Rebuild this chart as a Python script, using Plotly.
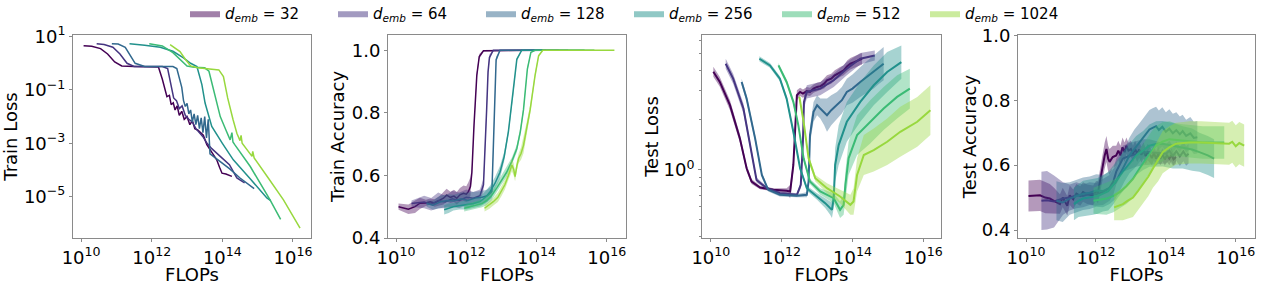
import plotly.graph_objects as go

# ---------------- series meta ----------------
labels = ["32", "64", "128", "256", "512", "1024"]
colors = ["#440154", "#453581", "#31688e", "#21918c", "#3bbb75", "#98d83e"]

# ---------------- Panel 1: Train Loss (log10 FLOPs, log10 loss) ----------------
tl32_x = [10.07, 10.3, 10.55, 10.75, 10.95, 11.15, 11.5, 11.9, 12.19, 12.3, 12.43, 12.5, 12.55, 12.61, 12.66, 12.72, 12.78, 12.85, 12.92, 13.0, 13.08, 13.15, 13.22, 13.3, 13.38, 13.46, 13.56, 13.7, 13.84, 13.92, 13.99, 14.1, 14.27]
tl32_y = [0.66, 0.64, 0.55, 0.35, 0.05, -0.1, -0.12, -0.12, -0.14, -0.6, -1.25, -1.2, -1.55, -1.48, -1.75, -1.6, -1.95, -1.8, -2.1, -2.0, -2.3, -2.15, -2.45, -2.5, -2.6, -2.7, -3.05, -3.35, -3.62, -3.9, -4.12, -4.15, -4.24]
tl64_x = [10.44, 10.65, 10.9, 11.1, 11.3, 11.5, 11.9, 12.3, 12.45, 12.55, 12.62, 12.7, 12.78, 12.86, 12.95, 13.05, 13.15, 13.25, 13.35, 13.45, 13.56, 13.7, 13.94, 14.2, 14.41, 14.63]
tl64_y = [0.73, 0.7, 0.6, 0.35, 0.0, -0.12, -0.12, -0.12, -0.2, -0.8, -1.3, -1.4, -1.7, -1.6, -1.95, -2.1, -2.2, -2.45, -2.6, -2.75, -2.99, -3.2, -3.49, -3.8, -4.3, -4.48]
tl128_x = [10.87, 11.05, 11.25, 11.4, 11.53, 11.8, 12.3, 12.6, 12.71, 12.78, 12.85, 12.9, 12.95, 13.0, 13.05, 13.1, 13.15, 13.2, 13.25, 13.3, 13.35, 13.4, 13.45, 13.5, 13.55, 13.6, 13.65, 13.8, 14.0, 14.2, 14.5, 14.9]
tl128_y = [0.73, 0.72, 0.6, 0.3, 0.0, -0.12, -0.12, -0.12, -0.2, -0.6, -0.9, -1.4, -1.62, -1.5, -1.9, -1.75, -2.2, -1.9, -2.3, -1.95, -2.45, -2.05, -2.6, -2.0, -2.8, -2.1, -3.4, -3.55, -3.75, -3.95, -4.3, -4.7]
tl256_x = [11.37, 11.8, 12.24, 12.6, 12.9, 13.1, 13.28, 13.42, 13.51, 13.7, 14.0, 14.31, 14.8, 15.26, 15.37]
tl256_y = [0.73, 0.68, 0.6, 0.45, 0.2, 0.0, -0.12, -0.8, -1.49, -2.37, -3.0, -3.62, -4.35, -5.05, -5.15]
tl512_x = [11.93, 12.3, 12.6, 12.85, 13.0, 13.2, 13.5, 13.62, 13.75, 13.94, 14.1, 14.22, 14.27, 14.3, 14.35, 14.79, 15.35, 15.65]
tl512_y = [0.73, 0.65, 0.4, 0.1, -0.1, -0.15, -0.17, -0.3, -1.0, -2.0, -2.5, -2.87, -2.6, -2.95, -3.05, -3.87, -5.12, -5.85]
tl1024_x = [12.52, 12.7, 12.8, 12.95, 13.1, 13.3, 13.6, 13.9, 14.03, 14.15, 14.3, 14.41, 14.5, 14.53, 14.56, 14.84, 14.86, 14.9, 15.3, 15.73, 16.2]
tl1024_y = [0.7, 0.55, 0.44, 0.15, -0.1, -0.17, -0.2, -0.25, -0.5, -1.3, -2.1, -2.62, -2.9, -2.7, -3.0, -3.49, -3.3, -3.55, -4.3, -5.12, -6.18]

# ---------------- Panel 2: Train Accuracy (log10 FLOPs, value, band half-width) ----------------
ta32_x = [10.07, 10.2, 10.35, 10.54, 10.68, 10.85, 10.97, 11.1, 11.25, 11.35, 11.44, 11.55, 11.65, 11.73, 11.82, 11.92, 12.0, 12.06, 12.12, 12.16, 12.22, 12.3, 12.37, 12.49, 14.27]
ta32_y = [0.50, 0.497, 0.492, 0.5, 0.511, 0.512, 0.516, 0.512, 0.52, 0.527, 0.537, 0.53, 0.534, 0.527, 0.538, 0.543, 0.54, 0.548, 0.565, 0.61, 0.76, 0.92, 0.98, 0.998, 1.0]
ta32_w = [0.01, 0.012, 0.015, 0.02, 0.018, 0.01, 0.01, 0.012, 0.015, 0.02, 0.02, 0.018, 0.02, 0.02, 0.022, 0.025, 0.025, 0.03, 0.03, 0.02, 0.015, 0.01, 0.008, 0.003, 0.0]
ta64_x = [10.44, 10.6, 10.8, 11.0, 11.2, 11.4, 11.6, 11.8, 12.0, 12.2, 12.39, 12.49, 12.54, 12.58, 12.62, 12.66, 12.77, 14.63]
ta64_y = [0.51, 0.512, 0.515, 0.508, 0.52, 0.515, 0.525, 0.52, 0.53, 0.527, 0.535, 0.57, 0.68, 0.81, 0.93, 0.977, 1.0, 1.0]
ta64_w = [0.01, 0.015, 0.02, 0.02, 0.025, 0.02, 0.025, 0.025, 0.025, 0.02, 0.02, 0.02, 0.02, 0.02, 0.015, 0.01, 0.0, 0.0]
ta128_x = [10.87, 11.05, 11.25, 11.45, 11.65, 11.85, 12.05, 12.25, 12.45, 12.6, 12.73, 12.76, 12.79, 12.85, 12.96, 14.9]
ta128_y = [0.51, 0.505, 0.515, 0.52, 0.518, 0.525, 0.52, 0.528, 0.53, 0.535, 0.548, 0.65, 0.76, 0.97, 1.0, 1.0]
ta128_w = [0.01, 0.015, 0.02, 0.02, 0.02, 0.02, 0.025, 0.02, 0.02, 0.02, 0.02, 0.02, 0.015, 0.01, 0.0, 0.0]
ta256_x = [11.37, 11.5, 11.63, 11.8, 12.01, 12.2, 12.39, 12.55, 12.68, 12.82, 12.96, 13.08, 13.2, 13.34, 13.44, 13.58, 15.37]
ta256_y = [0.49, 0.495, 0.5, 0.503, 0.506, 0.51, 0.516, 0.53, 0.548, 0.575, 0.61, 0.66, 0.74, 0.866, 0.971, 1.0, 1.0]
ta256_w = [0.015, 0.015, 0.012, 0.012, 0.015, 0.015, 0.015, 0.02, 0.02, 0.02, 0.02, 0.015, 0.01, 0.01, 0.005, 0.0, 0.0]
ta512_x = [11.94, 12.1, 12.3, 12.45, 12.58, 12.72, 12.87, 13.0, 13.15, 13.3, 13.44, 13.54, 13.63, 13.74, 13.84, 13.96, 15.65]
ta512_y = [0.495, 0.5, 0.506, 0.51, 0.52, 0.535, 0.56, 0.585, 0.61, 0.645, 0.686, 0.74, 0.81, 0.94, 0.993, 1.0, 1.0]
ta512_w = [0.01, 0.012, 0.012, 0.012, 0.015, 0.015, 0.015, 0.015, 0.015, 0.012, 0.012, 0.012, 0.01, 0.008, 0.003, 0.0, 0.0]
ta1024_x = [12.52, 12.65, 12.77, 12.9, 13.0, 13.1, 13.2, 13.3, 13.35, 13.39, 13.44, 13.49, 13.56, 13.63, 13.72, 13.82, 13.96, 14.06, 14.18, 16.22]
ta1024_y = [0.495, 0.505, 0.516, 0.53, 0.548, 0.57, 0.6, 0.633, 0.62, 0.596, 0.63, 0.654, 0.67, 0.696, 0.75, 0.81, 0.92, 0.982, 1.0, 1.0]
ta1024_w = [0.01, 0.012, 0.012, 0.015, 0.015, 0.015, 0.015, 0.02, 0.02, 0.015, 0.015, 0.015, 0.02, 0.025, 0.02, 0.015, 0.01, 0.005, 0.0, 0.0]

# ---------------- Panel 3: Test Loss (log10 FLOPs, log10 loss, band half-width in log10) ----------------
te32_x = [10.07, 10.25, 10.54, 10.82, 11.01, 11.15, 11.39, 11.77, 12.14, 12.24, 12.33, 12.38, 12.43, 12.52, 12.6, 12.71, 12.8, 12.9, 13.0, 13.1, 13.2, 13.28, 13.4, 13.5, 13.65, 13.75, 13.85, 13.94, 14.05, 14.15, 14.27]
te32_y = [0.592, 0.532, 0.39, 0.19, 0.01, -0.07, -0.106, -0.12, -0.125, -0.13, 0.03, 0.27, 0.45, 0.47, 0.46, 0.475, 0.47, 0.49, 0.50, 0.505, 0.52, 0.54, 0.55, 0.57, 0.59, 0.6, 0.625, 0.64, 0.65, 0.66, 0.67]
te32_w = [0.03, 0.03, 0.03, 0.025, 0.02, 0.015, 0.01, 0.01, 0.015, 0.04, 0.04, 0.04, 0.03, 0.025, 0.025, 0.025, 0.025, 0.025, 0.025, 0.025, 0.03, 0.03, 0.03, 0.03, 0.03, 0.03, 0.035, 0.035, 0.035, 0.035, 0.035]
te64_x = [10.42, 10.63, 10.92, 11.15, 11.29, 11.58, 11.95, 12.43, 12.54, 12.6, 12.63, 12.71, 13.09, 13.47, 13.84, 14.22, 14.63]
te64_y = [0.64, 0.55, 0.37, 0.11, -0.06, -0.11, -0.14, -0.15, -0.09, 0.17, 0.41, 0.47, 0.49, 0.54, 0.61, 0.67, 0.69]
te64_w = [0.03, 0.03, 0.03, 0.025, 0.015, 0.01, 0.01, 0.01, 0.02, 0.03, 0.04, 0.04, 0.04, 0.04, 0.04, 0.035, 0.03]
te128_x = [10.87, 11.01, 11.25, 11.44, 11.62, 11.95, 12.43, 12.71, 12.76, 12.8, 12.9, 13.0, 13.09, 13.2, 13.28, 13.4, 13.56, 13.7, 13.84, 14.0, 14.22, 14.4, 14.6, 14.75, 14.88]
te128_y = [0.53, 0.43, 0.19, -0.03, -0.12, -0.15, -0.155, -0.15, -0.07, 0.21, 0.35, 0.39, 0.37, 0.35, 0.33, 0.36, 0.39, 0.42, 0.47, 0.49, 0.53, 0.56, 0.59, 0.62, 0.64]
te128_w = [0.02, 0.02, 0.02, 0.015, 0.01, 0.01, 0.01, 0.015, 0.03, 0.05, 0.06, 0.06, 0.06, 0.08, 0.1, 0.09, 0.08, 0.08, 0.08, 0.085, 0.09, 0.095, 0.1, 0.1, 0.1]
te256_x = [11.37, 11.67, 11.95, 12.14, 12.33, 12.52, 12.71, 13.0, 13.23, 13.37, 13.42, 13.47, 13.51, 13.61, 13.84, 14.22, 14.6, 14.98, 15.38]
te256_y = [0.67, 0.63, 0.55, 0.43, 0.23, 0.01, -0.11, -0.16, -0.2, -0.23, -0.24, -0.17, 0.03, 0.15, 0.29, 0.41, 0.51, 0.59, 0.65]
te256_w = [0.015, 0.015, 0.015, 0.015, 0.015, 0.015, 0.015, 0.02, 0.03, 0.04, 0.05, 0.06, 0.1, 0.12, 0.12, 0.12, 0.12, 0.12, 0.1]
te512_x = [11.91, 12.14, 12.33, 12.47, 12.62, 12.8, 13.09, 13.47, 13.65, 13.75, 13.8, 13.89, 14.13, 14.5, 14.88, 15.26, 15.62]
te512_y = [0.63, 0.53, 0.41, 0.27, 0.07, -0.07, -0.13, -0.17, -0.24, -0.21, -0.09, 0.07, 0.21, 0.29, 0.37, 0.44, 0.49]
te512_w = [0.015, 0.015, 0.015, 0.015, 0.015, 0.015, 0.02, 0.03, 0.05, 0.06, 0.08, 0.1, 0.12, 0.13, 0.13, 0.13, 0.12]
te1024_x = [12.5, 12.62, 12.76, 12.95, 13.28, 13.65, 13.94, 14.03, 14.13, 14.32, 14.6, 14.98, 15.35, 15.83, 16.2]
te1024_y = [0.44, 0.29, 0.07, -0.05, -0.11, -0.16, -0.21, -0.19, -0.03, 0.09, 0.12, 0.17, 0.23, 0.29, 0.36]
te1024_w = [0.02, 0.02, 0.02, 0.02, 0.03, 0.04, 0.06, 0.08, 0.1, 0.12, 0.13, 0.14, 0.15, 0.15, 0.15]

# ---------------- Panel 4: Test Accuracy (log10 FLOPs, value, band half-width) ----------------
tc32_x = [10.07, 10.2, 10.4, 10.55, 10.68, 10.8, 10.97, 11.05, 11.11, 11.18, 11.25, 11.35, 11.44, 11.55, 11.63, 11.75, 11.92, 12.0, 12.06, 12.13, 12.2, 12.25, 12.3, 12.35, 12.39, 12.48, 12.58, 12.64, 12.7, 12.76, 12.82, 12.87, 12.93, 13.0, 13.06, 13.12, 13.18, 13.24, 13.3, 13.36, 13.42, 13.48, 13.53, 13.6, 13.66, 13.72, 13.78, 13.84, 13.91, 13.97, 14.03, 14.1, 14.16, 14.22, 14.29]
tc32_y = [0.505, 0.505, 0.507, 0.5, 0.497, 0.49, 0.48, 0.5, 0.49, 0.475, 0.507, 0.495, 0.512, 0.505, 0.517, 0.51, 0.507, 0.52, 0.517, 0.56, 0.6, 0.63, 0.65, 0.62, 0.61, 0.625, 0.63, 0.645, 0.63, 0.655, 0.64, 0.66, 0.645, 0.65, 0.635, 0.65, 0.635, 0.648, 0.632, 0.645, 0.628, 0.64, 0.635, 0.622, 0.637, 0.62, 0.635, 0.62, 0.632, 0.618, 0.63, 0.62, 0.632, 0.618, 0.625]
tc32_w = [0.048, 0.048, 0.048, 0.048, 0.045, 0.04, 0.03, 0.03, 0.03, 0.03, 0.03, 0.03, 0.03, 0.03, 0.03, 0.03, 0.03, 0.03, 0.035, 0.04, 0.04, 0.04, 0.04, 0.04, 0.04, 0.035, 0.03, 0.03, 0.03, 0.03, 0.03, 0.025, 0.025, 0.025, 0.025, 0.025, 0.025, 0.025, 0.025, 0.025, 0.025, 0.025, 0.025, 0.022, 0.022, 0.022, 0.022, 0.02, 0.02, 0.02, 0.02, 0.02, 0.02, 0.02, 0.02]
tc64_x = [10.44, 10.6, 10.8, 11.06, 11.25, 11.44, 11.63, 11.82, 12.0, 12.2, 12.39, 12.5, 12.58, 12.68, 12.77, 12.95, 13.15, 13.35, 13.53, 13.75, 14.01, 14.1, 14.2, 14.3, 14.4, 14.5, 14.58, 14.65]
tc64_y = [0.49, 0.492, 0.488, 0.497, 0.5, 0.507, 0.505, 0.512, 0.51, 0.517, 0.53, 0.55, 0.58, 0.6, 0.62, 0.628, 0.635, 0.64, 0.64, 0.638, 0.635, 0.645, 0.628, 0.643, 0.627, 0.642, 0.628, 0.635]
tc64_w = [0.09, 0.09, 0.08, 0.05, 0.04, 0.04, 0.035, 0.035, 0.035, 0.04, 0.04, 0.04, 0.04, 0.04, 0.04, 0.04, 0.04, 0.04, 0.04, 0.035, 0.03, 0.03, 0.03, 0.03, 0.03, 0.03, 0.03, 0.03]
tc128_x = [10.87, 11.05, 11.25, 11.44, 11.63, 11.82, 12.01, 12.2, 12.39, 12.55, 12.68, 12.82, 12.96, 13.1, 13.25, 13.4, 13.53, 13.62, 13.72, 13.8, 13.9, 14.0, 14.1, 14.2, 14.3, 14.4, 14.48, 14.58, 14.7, 14.8, 14.9]
tc128_y = [0.49, 0.485, 0.497, 0.505, 0.512, 0.515, 0.522, 0.52, 0.53, 0.545, 0.57, 0.6, 0.63, 0.65, 0.67, 0.69, 0.71, 0.715, 0.72, 0.708, 0.718, 0.703, 0.712, 0.698, 0.708, 0.695, 0.705, 0.69, 0.698, 0.684, 0.686]
tc128_w = [0.06, 0.06, 0.05, 0.05, 0.05, 0.05, 0.05, 0.05, 0.05, 0.05, 0.05, 0.05, 0.055, 0.06, 0.06, 0.06, 0.06, 0.06, 0.06, 0.06, 0.06, 0.06, 0.06, 0.06, 0.055, 0.055, 0.05, 0.05, 0.05, 0.05, 0.05]
tc256_x = [11.37, 11.5, 11.63, 11.78, 11.92, 12.05, 12.2, 12.35, 12.49, 12.63, 12.77, 12.96, 13.15, 13.35, 13.53, 13.72, 13.91, 14.2, 14.48, 14.75, 14.96, 15.2, 15.38]
tc256_y = [0.48, 0.49, 0.497, 0.5, 0.502, 0.505, 0.512, 0.52, 0.538, 0.56, 0.58, 0.605, 0.63, 0.645, 0.66, 0.665, 0.666, 0.66, 0.655, 0.648, 0.64, 0.63, 0.62]
tc256_w = [0.05, 0.05, 0.055, 0.055, 0.055, 0.055, 0.055, 0.06, 0.06, 0.06, 0.06, 0.06, 0.06, 0.06, 0.065, 0.07, 0.07, 0.07, 0.065, 0.065, 0.06, 0.06, 0.06]
tc512_x = [11.93, 12.1, 12.3, 12.5, 12.68, 12.87, 13.06, 13.25, 13.44, 13.6, 13.72, 13.9, 14.1, 14.3, 14.48, 14.75, 15.05, 15.35, 15.67]
tc512_y = [0.49, 0.493, 0.497, 0.505, 0.517, 0.535, 0.558, 0.59, 0.62, 0.645, 0.66, 0.672, 0.68, 0.678, 0.676, 0.673, 0.67, 0.67, 0.67]
tc512_w = [0.04, 0.045, 0.05, 0.05, 0.05, 0.055, 0.06, 0.06, 0.06, 0.06, 0.06, 0.06, 0.055, 0.05, 0.05, 0.05, 0.05, 0.05, 0.05]
tc1024_x = [12.52, 12.65, 12.77, 12.9, 13.06, 13.2, 13.34, 13.5, 13.63, 13.78, 13.91, 14.1, 14.29, 14.5, 14.67, 15.0, 15.24, 15.5, 15.81, 15.9, 16.0, 16.1, 16.24]
tc1024_y = [0.47, 0.475, 0.48, 0.49, 0.5, 0.52, 0.54, 0.565, 0.59, 0.615, 0.64, 0.655, 0.666, 0.668, 0.67, 0.67, 0.669, 0.668, 0.666, 0.672, 0.658, 0.668, 0.66]
tc1024_w = [0.04, 0.045, 0.05, 0.055, 0.06, 0.06, 0.06, 0.06, 0.06, 0.065, 0.065, 0.065, 0.065, 0.065, 0.065, 0.065, 0.065, 0.065, 0.065, 0.065, 0.065, 0.065, 0.065]

# ---------------- assemble ----------------
train_loss = [(tl32_x, tl32_y), (tl64_x, tl64_y), (tl128_x, tl128_y), (tl256_x, tl256_y), (tl512_x, tl512_y), (tl1024_x, tl1024_y)]
train_acc = [(ta32_x, ta32_y, ta32_w), (ta64_x, ta64_y, ta64_w), (ta128_x, ta128_y, ta128_w), (ta256_x, ta256_y, ta256_w), (ta512_x, ta512_y, ta512_w), (ta1024_x, ta1024_y, ta1024_w)]
test_loss = [(te32_x, te32_y, te32_w), (te64_x, te64_y, te64_w), (te128_x, te128_y, te128_w), (te256_x, te256_y, te256_w), (te512_x, te512_y, te512_w), (te1024_x, te1024_y, te1024_w)]
test_acc = [(tc32_x, tc32_y, tc32_w), (tc64_x, tc64_y, tc64_w), (tc128_x, tc128_y, tc128_w), (tc256_x, tc256_y, tc256_w), (tc512_x, tc512_y, tc512_w), (tc1024_x, tc1024_y, tc1024_w)]


def rgba(hex_color, a):
    h = hex_color.lstrip("#")
    r, g, b = int(h[0:2], 16), int(h[2:4], 16), int(h[4:6], 16)
    return f"rgba({r},{g},{b},{a})"


def pow10(v):
    return [10 ** t for t in v]


fig = go.Figure()
BAND_A = 0.4
LW = 1.5

# Panel 1
for (xe, ye), c in zip(train_loss, colors):
    fig.add_trace(go.Scatter(x=pow10(xe), y=pow10(ye), mode="lines", line=dict(color=c, width=LW),
                             showlegend=False, hoverinfo="skip", xaxis="x", yaxis="y"))

# Panel 2 (linear y)
for (xe, ye, we), c in zip(train_acc, colors):
    X = pow10(xe)
    up = [a + b for a, b in zip(ye, we)]
    lo = [a - b for a, b in zip(ye, we)]
    fig.add_trace(go.Scatter(x=X + X[::-1], y=up + lo[::-1], fill="toself", fillcolor=rgba(c, BAND_A),
                             line=dict(width=0), mode="lines", showlegend=False, hoverinfo="skip",
                             xaxis="x2", yaxis="y2"))
    fig.add_trace(go.Scatter(x=X, y=ye, mode="lines", line=dict(color=c, width=LW),
                             showlegend=False, hoverinfo="skip", xaxis="x2", yaxis="y2"))

# Panel 3 (log y)
for (xe, ye, we), c in zip(test_loss, colors):
    X = pow10(xe)
    up = [10 ** (a + b) for a, b in zip(ye, we)]
    lo = [10 ** (a - b) for a, b in zip(ye, we)]
    fig.add_trace(go.Scatter(x=X + X[::-1], y=up + lo[::-1], fill="toself", fillcolor=rgba(c, BAND_A),
                             line=dict(width=0), mode="lines", showlegend=False, hoverinfo="skip",
                             xaxis="x3", yaxis="y3"))
    fig.add_trace(go.Scatter(x=X, y=pow10(ye), mode="lines", line=dict(color=c, width=LW + 0.5),
                             showlegend=False, hoverinfo="skip", xaxis="x3", yaxis="y3"))

# Panel 4 (linear y)
for (xe, ye, we), c in zip(test_acc, colors):
    X = pow10(xe)
    up = [a + b for a, b in zip(ye, we)]
    lo = [a - b for a, b in zip(ye, we)]
    fig.add_trace(go.Scatter(x=X + X[::-1], y=up + lo[::-1], fill="toself", fillcolor=rgba(c, BAND_A),
                             line=dict(width=0), mode="lines", showlegend=False, hoverinfo="skip",
                             xaxis="x4", yaxis="y4"))
    fig.add_trace(go.Scatter(x=X, y=ye, mode="lines", line=dict(color=c, width=LW + 0.5),
                             showlegend=False, hoverinfo="skip", xaxis="x4", yaxis="y4"))

# Legend entries
for lab, c in zip(labels, colors):
    fig.add_trace(go.Scatter(x=[None], y=[None], mode="lines", fill="toself", fillcolor=rgba(c, 0.5),
                             line=dict(width=0, color=rgba(c, 0.5)),
                             name=f"<i>d</i><sub><i>emb</i></sub> = {lab}", xaxis="x", yaxis="y"))

W, H = 1263, 285
def xd(a, b):
    return [a / W, b / W]
ydom = [1 - 238 / H, 1 - 35 / H]

FONT = "DejaVu Sans"
SPINE = "#8a8a8a"
TICK_FS = 18
TITLE_FS = 18
xticks = [1e10, 1e12, 1e14, 1e16]
xtext = ["10<sup>10</sup>", "10<sup>12</sup>", "10<sup>14</sup>", "10<sup>16</sup>"]

def xaxis(dom, rng, anchor):
    return dict(domain=dom, anchor=anchor, type="log", range=rng, tickvals=xticks, ticktext=xtext,
                showline=True, mirror=True, linecolor=SPINE, linewidth=1, ticks="outside", ticklen=3,
                tickcolor=SPINE, showgrid=False, zeroline=False, tickfont=dict(size=TICK_FS, family=FONT),
                ticklabeloverflow="allow",
                title=dict(text="FLOPs", font=dict(size=TITLE_FS, family=FONT), standoff=0))

def yaxis_common(dom, anchor, title, standoff=0):
    return dict(domain=dom, anchor=anchor, showline=True, mirror=True, linecolor=SPINE, linewidth=1,
                ticks="outside", ticklen=3, tickcolor=SPINE, showgrid=False, zeroline=False,
                tickfont=dict(size=TICK_FS, family=FONT), ticklabeloverflow="allow",
                title=dict(text=title, font=dict(size=TITLE_FS, family=FONT), standoff=standoff))

y1 = yaxis_common(ydom, "x", "Train Loss", standoff=2)
y1.update(type="log", range=[-6.55, 1.06], tickvals=[10, 0.1, 1e-3, 1e-5],
          ticktext=["10<sup>1</sup>", "10<sup>\u22121</sup>", "10<sup>\u22123</sup>", "10<sup>\u22125</sup>"])
y2 = yaxis_common(ydom, "x2", "Train Accuracy", standoff=2)
y2.update(range=[0.4, 1.0486], tickvals=[0.4, 0.6, 0.8, 1.0], ticktext=["0.4", "0.6", "0.8", "1.0"])
y3 = yaxis_common(ydom, "x3", "Test Loss", standoff=0)
y3.update(type="log", range=[-0.41, 0.813], tickvals=[1], ticktext=["10<sup>0</sup>"],
          minor=dict(tickvals=[0.4, 0.5, 0.6, 0.7, 0.8, 0.9, 2, 3, 4, 5, 6], ticks="outside",
                     ticklen=2, tickcolor=SPINE, showgrid=False))
y4 = yaxis_common(ydom, "x4", "Test Accuracy", standoff=0)
y4.update(range=[0.3755, 1.001], tickvals=[0.4, 0.6, 0.8, 1.0], ticktext=["0.4", "0.6", "0.8", "1.0"])

fig.update_layout(
    width=W, height=H, margin=dict(l=0, r=0, t=0, b=0, autoexpand=False),
    paper_bgcolor="white", plot_bgcolor="white",
    font=dict(family=FONT, size=16, color="black"),
    xaxis=xaxis(xd(73, 311), [9.77, 16.51], "y"),
    xaxis2=xaxis(xd(388, 626), [9.77, 16.55], "y2"),
    xaxis3=xaxis(xd(702, 941), [9.75, 16.5], "y3"),
    xaxis4=xaxis(xd(1018, 1255), [9.77, 16.55], "y4"),
    yaxis=y1, yaxis2=y2, yaxis3=y3, yaxis4=y4,
    legend=dict(orientation="h", x=185 / W, y=1 + 3 / H, xanchor="left", yanchor="top",
                font=dict(size=15, family=FONT), bgcolor="rgba(0,0,0,0)", borderwidth=0,
                entrywidth=103, entrywidthmode="pixels", itemclick=False, itemdoubleclick=False),
)

fig.write_html("out.html", config={"displayModeBar": False},
               post_script="document.body.style.margin='0px';")
